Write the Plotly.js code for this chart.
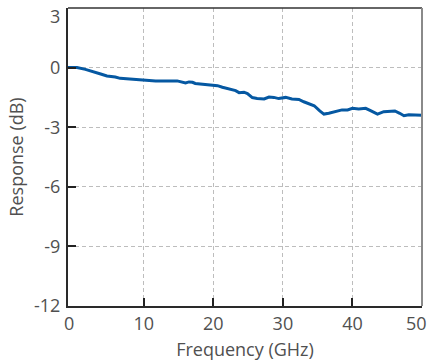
<!DOCTYPE html>
<html>
<head>
<meta charset="utf-8">
<script src="https://cdn.plot.ly/plotly-3.0.1.min.js"></script>
<style>html,body{margin:0;padding:0;background:#fff}#chart{width:429px;height:364px}</style>
</head>
<body>
<div id="chart"></div>
<script>
var freqGHz = [-0.9, 0.4, 1.6, 2.8, 3.8, 4.7, 5.9, 6.6, 8.1, 9.5, 10.9, 11.7, 14.8, 15.5, 16.0, 16.5, 17.0, 17.4, 19.1, 20.6, 21.3, 22.5, 23.2, 23.7, 24.4, 24.9, 25.6, 26.3, 27.3, 28.0, 28.7, 29.4, 30.4, 31.3, 32.3, 33.0, 33.7, 34.5, 35.3, 35.9, 36.6, 37.6, 38.5, 39.3, 40.0, 40.9, 41.9, 42.6, 43.6, 44.5, 45.5, 46.1, 46.8, 47.4, 48.1, 48.9, 50.0];
var responseDB = [0, 0, -0.09, -0.2, -0.32, -0.42, -0.47, -0.54, -0.57, -0.59, -0.62, -0.67, -0.67, -0.74, -0.77, -0.72, -0.74, -0.8, -0.84, -0.91, -0.99, -1.08, -1.16, -1.26, -1.24, -1.31, -1.51, -1.55, -1.58, -1.48, -1.5, -1.56, -1.5, -1.58, -1.6, -1.72, -1.8, -1.92, -2.18, -2.34, -2.3, -2.22, -2.13, -2.13, -2.05, -2.08, -2.05, -2.17, -2.34, -2.22, -2.18, -2.18, -2.3, -2.42, -2.37, -2.39, -2.4];
var xTickVals = [0, 10, 20, 30, 40, 50];
var xTickText = ['0', '10', '20', '30', '40', '50'];
var yTickVals = [3, 0, -3, -6, -9, -12];
var yTickText = ['3', '0', '-3', '-6', '-9', '-12'];
var xInnerTicks = [10, 20, 30, 40];
var yInnerTicks = [0, -3, -6, -9];
var xRange = [-0.9, 50];
var yRange = [-12, 3];

var fontFam = '"Open Sans", "Noto Sans", sans-serif';
var txtColor = '#505050';
var tf = {size: 18, color: txtColor, family: fontFam};
var gridStyle = {showgrid: true, gridcolor: '#bdbdbd', griddash: '4px,3px', gridwidth: 1};

// edge labels ("3", x "0", "50") sit offset in the reference; draw them as annotations
var lastX = xTickVals.length - 1;
var yAxisText = yTickText.map(function (t, i) { return i === 0 ? '' : t; });
var xAxisText = xTickText.map(function (t, i) { return (i === 0 || i === lastX) ? '' : t; });

var trace = {
  x: freqGHz, y: responseDB, type: 'scatter', mode: 'lines',
  line: {color: '#0558a2', width: 3, shape: 'linear'},
  hoverinfo: 'none', showlegend: false
};
var layout = {
  width: 429, height: 364,
  margin: {l: 68, r: 7, t: 8, b: 58},
  paper_bgcolor: '#fff', plot_bgcolor: '#fff',
  font: {family: fontFam, color: txtColor, size: 18},
  showlegend: false,
  xaxis: {
    range: xRange, tickmode: 'array', tickvals: xTickVals, ticktext: xAxisText,
    showgrid: false, zeroline: false, showline: true, linecolor: '#2a2a2a', linewidth: 2,
    ticks: '', ticklabeloverflow: 'allow', tickfont: tf,
    title: {text: 'Frequency (GHz)', font: tf, standoff: 10},
    fixedrange: true
  },
  yaxis: Object.assign({
    range: yRange, tickmode: 'array', tickvals: yTickVals, ticktext: yAxisText,
    zeroline: false, showline: true, linecolor: '#2a2a2a', linewidth: 2,
    ticks: '', ticklabeloverflow: 'allow', ticklabelstandoff: 2, tickfont: tf,
    title: {text: 'Response (dB)', font: tf, standoff: 6},
    fixedrange: true
  }, gridStyle),
  xaxis2: Object.assign({
    overlaying: 'x', anchor: 'y', range: xRange, tickmode: 'array', tickvals: xInnerTicks,
    ticks: 'inside', ticklen: 8, tickwidth: 2, tickcolor: '#222',
    showticklabels: false, zeroline: false, showline: false, fixedrange: true
  }, gridStyle),
  yaxis2: {
    overlaying: 'y', anchor: 'x', range: yRange, tickmode: 'array', tickvals: yInnerTicks,
    ticks: 'inside', ticklen: 8, tickwidth: 2, tickcolor: '#222',
    showticklabels: false, showgrid: false, zeroline: false, showline: false, fixedrange: true
  },
  annotations: [
    {text: yTickText[0], xref: 'paper', yref: 'y', x: 0, y: yTickVals[0], xanchor: 'right', yanchor: 'top',
     xshift: -6, yshift: 6, showarrow: false, font: tf},
    {text: xTickText[0], xref: 'x', yref: 'paper', x: xTickVals[0], y: 0, xanchor: 'center', yanchor: 'top',
     xshift: -5, yshift: -3, showarrow: false, font: tf},
    {text: xTickText[lastX], xref: 'x', yref: 'paper', x: xTickVals[lastX], y: 0, xanchor: 'right', yanchor: 'top',
     xshift: 7, yshift: -3, showarrow: false, font: tf}
  ],
  shapes: [
    {type: 'line', xref: 'paper', yref: 'paper', x0: 0, x1: 1, y0: 1, y1: 1, line: {color: '#333', width: 1.5}},
    {type: 'line', xref: 'paper', yref: 'paper', x0: 1, x1: 1, y0: 0, y1: 1, line: {color: '#8a8a8a', width: 2}}
  ]
};
var tickTrace = {x: [], y: [], xaxis: 'x2', yaxis: 'y2', type: 'scatter', showlegend: false, hoverinfo: 'none'};
Plotly.newPlot('chart', [trace, tickTrace], layout, {staticPlot: true, displayModeBar: false});
</script>
</body>
</html>
